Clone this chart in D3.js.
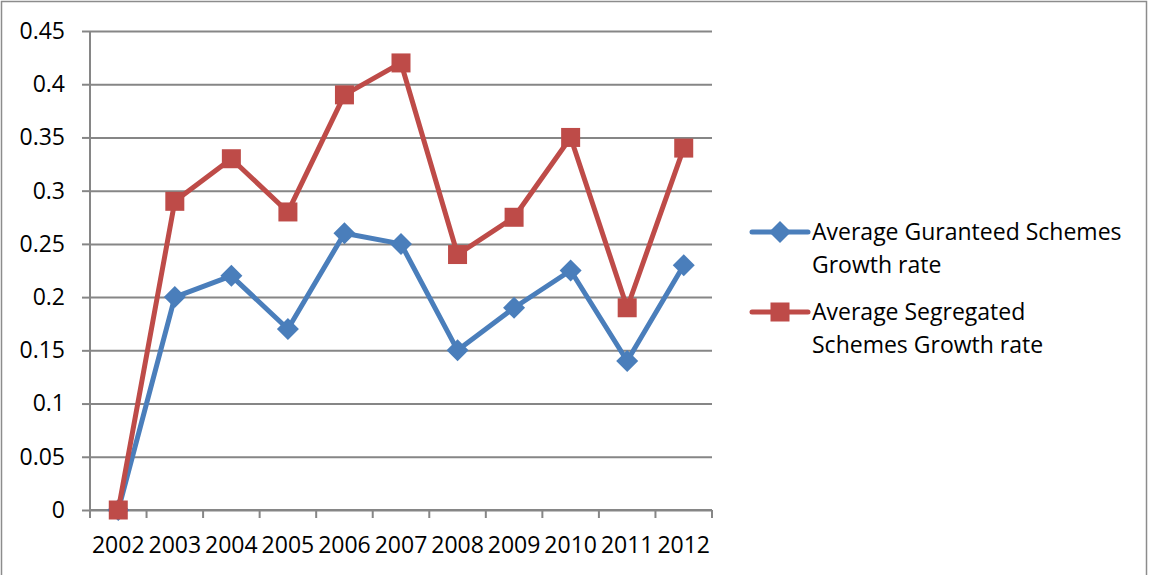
<!DOCTYPE html>
<html>
<head>
<meta charset="utf-8">
<script src="https://cdn.jsdelivr.net/npm/d3@7"></script>
<style>
  body { margin: 0; background: #fff; }
  svg { display: block; font-family: "Open Sans", sans-serif; }
</style>
</head>
<body>
<div id="root"></div>
<script>
const years = ["2002", "2003", "2004", "2005", "2006", "2007", "2008", "2009", "2010", "2011", "2012"];
const guaranteed = [0, 0.2, 0.22, 0.17, 0.26, 0.25, 0.15, 0.19, 0.225, 0.14, 0.23];
const segregated = [0, 0.29, 0.33, 0.28, 0.39, 0.42, 0.24, 0.275, 0.35, 0.19, 0.34];
const yTicks = [0, 0.05, 0.1, 0.15, 0.2, 0.25, 0.3, 0.35, 0.4, 0.45];
const seriesNames = [
  ["Average Guranteed Schemes", "Growth rate"],
  ["Average Segregated", "Schemes Growth rate"],
];

const width = 1149;
const height = 575;
const plot = { left: 90, right: 712, top: 31, bottom: 510 };
const gridColor = "#868686";
const fontSize = 23;

const svg = d3.select("#root").append("svg")
  .attr("width", width)
  .attr("height", height);

// outer chart border
svg.append("rect")
  .attr("x", 1.5).attr("y", 1.5)
  .attr("width", width - 4).attr("height", height + 10)
  .attr("fill", "none")
  .attr("stroke", "#8c8c8c")
  .attr("stroke-width", 1.5);

const x = d3.scaleBand(years, [plot.left, plot.right]);
const y = d3.scaleLinear([0, 0.45], [plot.bottom, plot.top]);
const cx = d => x(d) + x.bandwidth() / 2;

// gridlines + y axis
const yAxis = svg.append("g")
  .attr("transform", `translate(${plot.left},0)`)
  .call(d3.axisLeft(y)
    .tickValues(yTicks)
    .tickFormat(d3.format("~g"))
    .tickSize(8)
    .tickPadding(17));
yAxis.select(".domain").remove();
yAxis.selectAll(".tick line").attr("stroke", gridColor).attr("stroke-width", 2);
yAxis.selectAll(".tick").append("line")
  .attr("x2", plot.right - plot.left)
  .attr("stroke", gridColor).attr("stroke-width", 2);
yAxis.selectAll("text")
  .attr("font-size", fontSize).attr("font-family", "Open Sans")
  .attr("fill", "#000");

svg.append("line")
  .attr("x1", plot.left).attr("x2", plot.left)
  .attr("y1", plot.top).attr("y2", plot.bottom)
  .attr("stroke", gridColor).attr("stroke-width", 2);

// x axis: ticks on band boundaries, labels centred
const xg = svg.append("g").attr("transform", `translate(0,${plot.bottom})`);
xg.append("line")
  .attr("x1", plot.left).attr("x2", plot.right)
  .attr("stroke", gridColor).attr("stroke-width", 2);
xg.selectAll("line.tk")
  .data(years.concat(["end"]))
  .join("line")
  .attr("class", "tk")
  .attr("x1", (d, i) => plot.left + i * x.bandwidth())
  .attr("x2", (d, i) => plot.left + i * x.bandwidth())
  .attr("y2", 8)
  .attr("stroke", gridColor).attr("stroke-width", 2);
xg.selectAll("text")
  .data(years)
  .join("text")
  .attr("x", cx)
  .attr("y", 43)
  .attr("text-anchor", "middle")
  .attr("font-size", fontSize)
  .text(d => d);

const series = [
  { values: guaranteed, color: "#4A7EBB", marker: "diamond" },
  { values: segregated, color: "#BE4B48", marker: "square" },
];

const line = d3.line().x(d => cx(d.year)).y(d => y(d.v));

function drawMarker(g, type, color) {
  if (type === "square") {
    g.append("rect")
      .attr("x", -9.5).attr("y", -9.5)
      .attr("width", 19).attr("height", 19)
      .attr("fill", color);
  } else {
    g.append("path")
      .attr("d", "M0,-11L11,0L0,11L-11,0Z")
      .attr("fill", color);
  }
}

series.forEach(s => {
  const pts = years.map((year, i) => ({ year, v: s.values[i] }));
  svg.append("path")
    .datum(pts)
    .attr("d", line)
    .attr("fill", "none")
    .attr("stroke", s.color)
    .attr("stroke-width", 5)
    .attr("stroke-linejoin", "round");
  svg.append("g").selectAll("g")
    .data(pts)
    .join("g")
    .attr("transform", d => `translate(${cx(d.year)},${y(d.v)})`)
    .each(function () { drawMarker(d3.select(this), s.marker, s.color); });
});

// legend
const legend = svg.append("g");
const legendY = [232, 312];
series.forEach((s, i) => {
  const g = legend.append("g").attr("transform", `translate(752,${legendY[i]})`);
  g.append("line")
    .attr("x1", 0).attr("x2", 56)
    .attr("stroke", s.color).attr("stroke-width", 5)
    .attr("stroke-linecap", "round");
  const m = g.append("g").attr("transform", "translate(28,0)");
  drawMarker(m, s.marker, s.color);
  seriesNames[i].forEach((t, j) => {
    g.append("text")
      .attr("x", 60)
      .attr("y", j * 33)
      .attr("dy", "0.35em")
      .attr("font-size", fontSize)
      .text(t);
  });
});
</script>
</body>
</html>
